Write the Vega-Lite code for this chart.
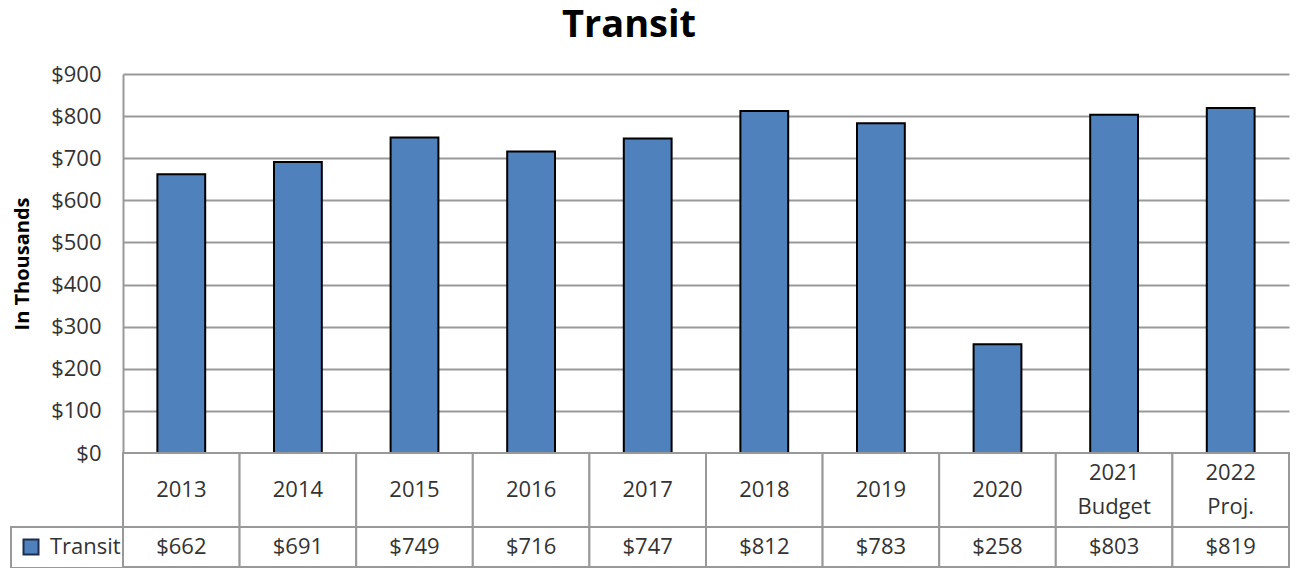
{
  "$schema": "https://vega.github.io/schema/vega-lite/v6.json",
  "autosize": {"type": "pad"},
  "padding": {"left": 10, "top": 7, "right": 9, "bottom": 0},
  "background": "#ffffff",
  "bounds": "flush",
  "title": {"text": "Transit", "font": "Open Sans", "fontSize": 38, "fontWeight": "bold", "color": "#000000", "anchor": "middle", "offset": 18, "dx": -21},
  "datasets": {
    "transit": [
      {"label": "2013", "value": 662},
      {"label": "2014", "value": 691},
      {"label": "2015", "value": 749},
      {"label": "2016", "value": 716},
      {"label": "2017", "value": 747},
      {"label": "2018", "value": 812},
      {"label": "2019", "value": 783},
      {"label": "2020", "value": 258},
      {"label": "2021\nBudget", "value": 803},
      {"label": "2022\nProj.", "value": 819}
    ]
  },
  "spacing": 0,
  "resolve": {"scale": {"color": "independent"}, "legend": {"color": "independent"}},
  "vconcat": [
    {
      "width": 1166,
      "height": 379,
      "data": {"name": "transit"},
      "mark": {"type": "bar", "width": {"band": 0.41}, "stroke": "#000000", "strokeWidth": 2},
      "encoding": {
        "x": {"field": "label", "type": "nominal", "sort": null, "scale": {"paddingInner": 0, "paddingOuter": 0}, "axis": null},
        "y": {
          "field": "value", "type": "quantitative",
          "scale": {"domain": [0, 900], "nice": false},
          "axis": {
            "values": [0, 100, 200, 300, 400, 500, 600, 700, 800, 900],
            "format": "$.0f",
            "title": "In Thousands",
            "titleFont": "Open Sans", "titleFontSize": 20, "titleFontWeight": "bold", "titleColor": "#000000",
            "titlePadding": 18,
            "labelFont": "Open Sans", "labelFontSize": 22, "labelColor": "#333333", "labelPadding": 22,
            "ticks": false,
            "domain": true, "domainColor": "#999999", "domainWidth": 2,
            "grid": true, "gridColor": "#999999", "gridWidth": 2
          }
        },
        "color": {
          "datum": "Transit",
          "scale": {"range": ["#4F81BD"]},
          "legend": {
            "orient": "none", "legendX": -112, "legendY": 453,
            "title": null,
            "symbolType": "square", "symbolSize": 225,
            "symbolStrokeColor": "#1F2D4A", "symbolStrokeWidth": 2,
            "labelFont": "Open Sans", "labelFontSize": 22, "labelColor": "#333333", "labelOffset": 8,
            "padding": 9, "strokeColor": "#999999", "fillColor": "#ffffff", "cornerRadius": 0
          }
        }
      }
    },
    {
      "width": 1166,
      "height": 74,
      "data": {"name": "transit"},
      "encoding": {
        "x": {"field": "label", "type": "nominal", "sort": null, "scale": {"paddingInner": 0, "paddingOuter": 0}, "axis": null}
      },
      "layer": [
        {"mark": {"type": "rect", "fill": "#ffffff", "stroke": "#999999", "strokeWidth": 2}},
        {"transform": [{"filter": "length(datum.label) <= 4"}],
         "mark": {"type": "text", "font": "Open Sans", "fontSize": 22, "color": "#333333", "baseline": "middle"},
         "encoding": {"text": {"field": "label", "type": "nominal"}}},
        {"transform": [{"filter": "length(datum.label) > 4"}],
         "mark": {"type": "text", "font": "Open Sans", "fontSize": 22, "color": "#333333", "lineBreak": "\n", "lineHeight": 34, "baseline": "middle", "dy": -17},
         "encoding": {"text": {"field": "label", "type": "nominal"}}}
      ]
    },
    {
      "width": 1166,
      "height": 40,
      "data": {"name": "transit"},
      "encoding": {
        "x": {"field": "label", "type": "nominal", "sort": null, "scale": {"paddingInner": 0, "paddingOuter": 0}, "axis": null}
      },
      "layer": [
        {"mark": {"type": "rect", "fill": "#ffffff", "stroke": "#999999", "strokeWidth": 2}},
        {"mark": {"type": "text", "font": "Open Sans", "fontSize": 22, "color": "#333333", "baseline": "middle"},
         "encoding": {"text": {"field": "value", "type": "quantitative", "format": "$.0f"}}}
      ]
    }
  ],
  "config": {
    "view": {"stroke": null},
    "font": "Open Sans",
    "legend": {"strokeWidth": 2}
  }
}
